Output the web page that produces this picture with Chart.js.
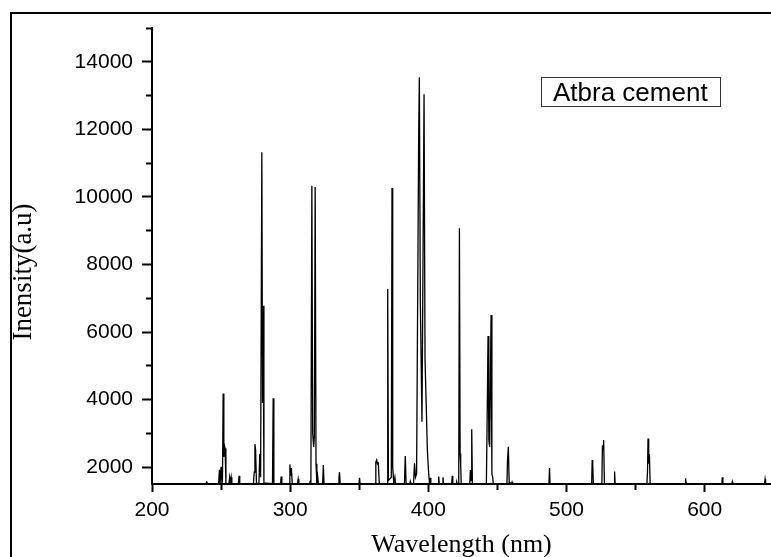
<!DOCTYPE html>
<html>
<head>
<meta charset="utf-8">
<title>Atbra cement - emission spectrum</title>
<script src="https://cdn.jsdelivr.net/npm/chart.js@4.4.0/dist/chart.umd.min.js"></script>
<style>
  html, body { margin: 0; padding: 0; background: #fff; overflow: hidden; }
  #wrap { position: relative; width: 771px; height: 557px; }
  /* outer frame of the figure, cut off on the right and bottom like the original */
  #frame { position: absolute; left: 10px; top: 12px; width: 800px; height: 600px;
           border-left: 2px solid #000; border-top: 2px solid #000; }
  #spectrum { position: absolute; left: 0; top: 0; }
</style>
</head>
<body>
<div id="wrap">
  <div id="frame"></div>
  <canvas id="spectrum" width="771" height="557"></canvas>
</div>
<script>
    // sample name (legend) and y axis caption
    const seriesName = 'Atbra cement';
    const yCaption = 'Inensity(a.u)';

    // wavelength (nm)
    const wavelength = [
        200, 238.9, 239.6, 240.3,
        248.2, 248.8, 249.3, 250.0, 250.6, 251.0, 251.5, 252.0, 252.4, 252.9, 253.5,
        255.7, 256.2, 256.7, 257.3, 257.8, 262.5, 263.0, 263.5,
        273.4, 274.0, 274.5, 275.0, 275.6, 277.4, 278.0, 278.6, 279.5, 280.0, 280.4, 281.0,
        287.2, 287.7, 288.2, 293.0, 293.5, 294.0,
        299.3, 299.8, 300.3, 300.9, 301.5, 305.3, 305.8, 306.3,
        314.0, 314.5, 315.0, 315.7, 316.3, 317.0, 317.5, 318.1, 318.7, 319.3, 319.9, 320.4,
        323.5, 324.0, 324.5, 334.9, 335.3, 335.7, 336.2,
        349.8, 350.2, 350.6, 361.6, 362.0, 362.6, 363.2, 363.8, 364.5,
        370.1, 370.6, 371.1, 373.2, 373.7, 374.2, 375.0, 375.8, 376.3,
        382.7, 383.3, 383.9, 386.6, 387.0, 387.5,
        389.3, 390.0, 390.7, 391.5, 393.0, 393.5, 394.2, 395.4, 396.9, 397.6, 398.5, 399.3, 400.1, 400.8,
        401.1, 401.4, 401.8, 407.1, 407.5, 407.9, 410.2, 410.6, 411.0, 416.9, 417.3, 417.7, 420.1, 420.5, 420.9,
        422.0, 422.5, 423.0, 423.4, 423.8, 430.0, 430.4, 430.9, 431.4, 431.9,
        442.0, 442.5, 443.2, 443.8, 444.4, 445.4, 446.0, 446.6, 447.0,
        456.9, 457.3, 457.9, 458.5, 460.2, 460.6, 461.0,
        487.3, 487.7, 488.1, 518.2, 518.6, 519.0, 519.4, 525.6, 526.0, 526.5, 526.9, 527.4, 534.4, 534.8, 535.2,
        558.2, 558.6, 559.0, 559.5, 560.0, 560.5,
        585.8, 586.2, 586.6, 612.4, 612.8, 613.2, 619.7, 620.0, 620.3, 643.3, 643.7, 644.1, 648
    ];

    // intensity (a.u), same order as wavelength
    const intensity = [
        1510, 1510, 1560, 1510,
        1510, 1920, 1520, 2010, 1530, 1600, 4180, 2300, 2650, 2550, 1520,
        1510, 1690, 1510, 1700, 1510, 1510, 1745, 1510,
        1510, 1850, 2680, 2500, 1520, 1520, 2390, 1700, 11320, 3900, 6780, 1530,
        1510, 4040, 1510, 1510, 1720, 1510,
        1510, 2080, 1750, 1970, 1520, 1510, 1650, 1510,
        1510, 1580, 1560, 10330, 3000, 2600, 2900, 10290, 2100, 1530, 1720, 1510,
        1510, 2060, 1510, 1510, 1700, 1850, 1510,
        1510, 1680, 1510, 1510, 2150, 2210, 2100, 2120, 1520,
        1510, 7270, 1600, 1700, 10260, 2000, 1520, 1700, 1510,
        1510, 2330, 1520, 1510, 1580, 1510,
        1520, 2110, 1700, 1800, 11800, 13540, 6900, 3340, 13040, 5200, 3790, 2500, 1900, 1520,
        1510, 1680, 1510, 1510, 1720, 1510, 1510, 1700, 1510, 1510, 1740, 1510, 1510, 1560, 1510,
        1510, 9070, 2400, 2090, 1520, 1510, 1910, 1600, 3120, 1510,
        1520, 3200, 5880, 2800, 2600, 6500, 1800, 1700, 1510,
        1510, 2200, 2600, 1550, 1510, 1560, 1510,
        1510, 1970, 1510, 1510, 2210, 2050, 1510, 1510, 2650, 2500, 2800, 1520, 1510, 1870, 1510,
        1510, 1850, 2850, 2100, 2390, 1520,
        1510, 1670, 1510, 1510, 1700, 1510, 1510, 1570, 1510, 1510, 1640, 1510, 1510
    ];

    // axis ranges and tick positions (minor + major)
    const xRange = [200, 648];
    const yRange = [1500, 15000];
    const xTicks = [200, 250, 300, 350, 400, 450, 500, 550, 600];
    const yTicks = [2000, 3000, 4000, 5000, 6000, 7000, 8000, 9000, 10000, 11000, 12000, 13000, 14000, 15000];
    // labelled (major) ticks
    const xLabels = [200, 300, 400, 500, 600];
    const yLabels = [2000, 4000, 6000, 8000, 10000, 12000, 14000];

    const points = wavelength.map((w, i) => ({ x: w, y: intensity[i] }));

    // legend box inside the plot + the y caption (sits a bit low, as in the original)
    const boxLegend = {
        id: 'boxLegend',
        afterDraw(chart) {
            const c = chart.ctx;
            c.save();
            c.strokeStyle = '#333';
            c.lineWidth = 1;
            c.strokeRect(541.5, 77.5, 179, 29);
            c.fillStyle = '#000';
            c.font = '26px "Liberation Sans", Arial, sans-serif';
            c.textBaseline = 'alphabetic';
            c.fillText(chart.data.datasets[0].label, 553, 100.5);

            // rotated y axis caption
            c.translate(24, 272);
            c.rotate(-Math.PI / 2);
            c.font = '27px "Liberation Serif", "Times New Roman", serif';
            c.textAlign = 'center';
            c.textBaseline = 'middle';
            c.fillText(yCaption, 0, 0);
            c.restore();
        }
    };

    const ctx = document.getElementById('spectrum').getContext('2d');
    const chart = new Chart(ctx, {
        type: 'line',
        data: {
            datasets: [{
                label: seriesName,
                data: points,
                borderColor: '#000',
                borderWidth: 1.3,
                pointRadius: 0,
                tension: 0,
                fill: false
            }]
        },
        options: {
            responsive: false,
            animation: false,
            layout: { padding: { top: 28, left: 0, right: 0, bottom: 0 } },
            plugins: {
                legend: { display: false },
                tooltip: { enabled: false }
            },
            scales: {
                x: {
                    type: 'linear',
                    min: xRange[0],
                    max: xRange[1],
                    afterBuildTicks: s => { s.ticks = xTicks.map(v => ({ value: v })); },
                    border: { display: true, color: '#000', width: 2 },
                    grid: {
                        drawOnChartArea: false,
                        tickLength: 8,
                        tickWidth: 2,
                        tickColor: '#000',
                        // short minor ticks
                        tickBorderDash: c => (c.tick && !xLabels.includes(c.tick.value)) ? [5, 100] : []
                    },
                    ticks: {
                        autoSkip: false,
                        maxRotation: 0,
                        padding: 6,
                        color: '#000',
                        font: { family: '"Liberation Sans", Arial, sans-serif', size: 21 },
                        callback: v => (xLabels.includes(v) ? String(v) : '')
                    },
                    title: {
                        display: true,
                        text: 'Wavelength (nm)',
                        color: '#000',
                        padding: { top: 0, bottom: 0 },
                        font: { family: '"Liberation Serif", "Times New Roman", serif', size: 26, lineHeight: 0.9 }
                    },
                    afterFit: s => { s.height = 73; }
                },
                y: {
                    min: yRange[0],
                    max: yRange[1],
                    afterBuildTicks: s => { s.ticks = yTicks.map(v => ({ value: v })); },
                    border: { display: true, color: '#000', width: 2 },
                    grid: {
                        drawOnChartArea: false,
                        tickLength: 10,
                        tickWidth: 2,
                        tickColor: '#000',
                        tickBorderDash: c => (c.tick && !yLabels.includes(c.tick.value)) ? [0, 4, 5, 100] : []
                    },
                    ticks: {
                        autoSkip: false,
                        padding: 9,
                        color: '#000',
                        font: { family: '"Liberation Sans", Arial, sans-serif', size: 21 },
                        callback: v => (yLabels.includes(v) ? String(v) : '')
                    },
                    title: { display: false },
                    afterFit: s => { s.width = 152; }
                }
            }
        },
        plugins: [boxLegend]
    });
</script>
</body>
</html>
